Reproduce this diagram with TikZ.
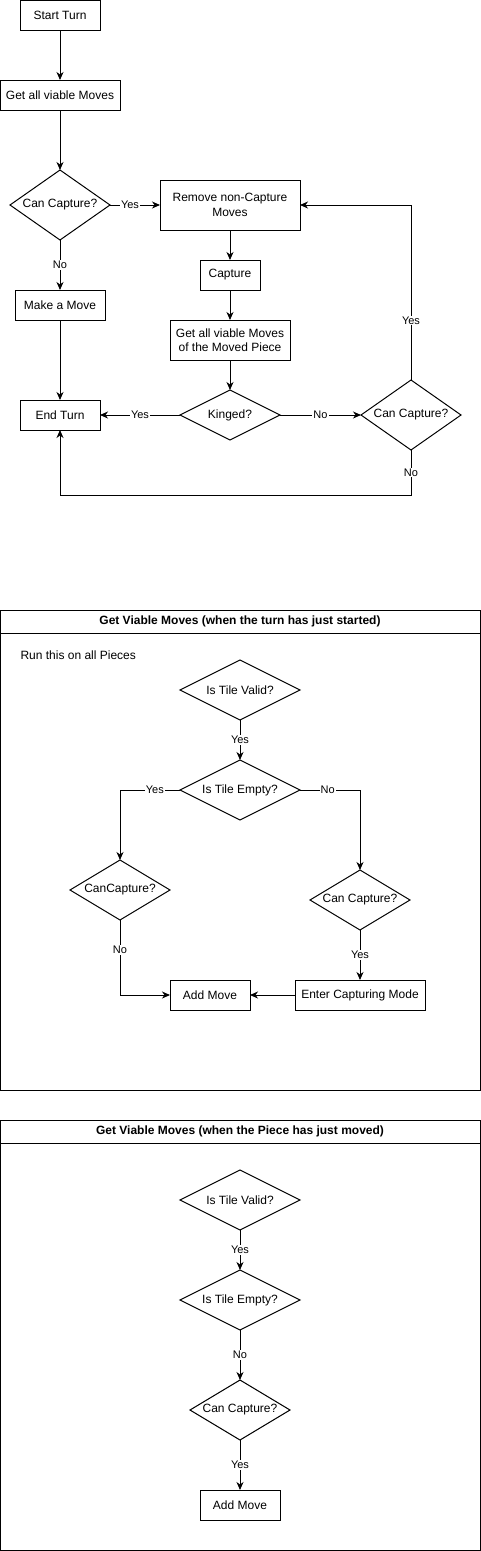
\documentclass[tikz,border=0pt]{standalone}
\usepackage{fontspec}
\setmainfont{Liberation Sans}
\usetikzlibrary{positioning, shapes.geometric, arrows.meta}

\begin{document}
\begin{tikzpicture}[x=1pt, y=1pt,
		box/.style={draw, rectangle, align=center, line width=1pt, inner sep=2pt, outer sep=0pt, minimum height=30pt, font=\fontsize{12}{14.5}\selectfont},
		decision/.style={draw, diamond, align=center, line width=1pt, inner sep=0pt, outer sep=0pt, font=\fontsize{12}{14.5}\selectfont},
		arrow/.style={-{Stealth[length=8pt, width=7pt, inset=2.5pt]}, line width=1pt},
		lbl/.style={fill=white, inner sep=1pt, font=\fontsize{11}{13}\selectfont},
		pool/.style={draw, rectangle, line width=1pt, inner sep=0pt, outer sep=0pt, minimum width=480pt},
		poolhead/.style={draw, rectangle, line width=1pt, outer sep=0pt, minimum width=480pt, minimum height=23pt, anchor=north, font=\fontsize{12}{14.5}\selectfont\bfseries}]
	\useasboundingbox (0,0) rectangle (481,-1551);

	% turn
	\node[box, minimum width=80pt] (start) at (60,-15) {Start Turn};
	\node[box, below=50pt of start, minimum width=120pt] (get) {Get all viable Moves};
	\node[decision, below=60pt of get, minimum width=100pt, minimum height=70pt, aspect=1.43] (cap1) {Can Capture?};
	\node[box, right=50pt of cap1, minimum width=140pt, minimum height=50pt] (remove) {Remove non-Capture\\Moves};
	\node[box, below=50pt of cap1, minimum width=90pt] (make) {Make a Move};
	\node[box, below=30pt of remove, minimum width=60pt] (capture) {Capture};
	\node[box, below=30pt of capture, minimum width=120pt, minimum height=40pt] (getpiece) {Get all viable Moves\\of the Moved Piece};
	\node[decision, below=30pt of getpiece, minimum width=100pt, minimum height=50pt, aspect=2] (kinged) {Kinged?};
	\node[box, left=80pt of kinged, minimum width=80pt] (endturn) {End Turn};
	\node[decision, right=81pt of kinged, minimum width=100pt, minimum height=70pt, aspect=1.43] (cap2) {Can Capture?};

	\draw[arrow] (start) -- (get);
	\draw[arrow] (get) -- (cap1);
	\draw[arrow] (cap1) -- node[lbl, pos=0.4] {Yes} (remove);
	\draw[arrow] (cap1) -- node[lbl] {No} (make);
	\draw[arrow] (remove) -- (capture);
	\draw[arrow] (capture) -- (getpiece);
	\draw[arrow] (getpiece) -- (kinged);
	\draw[arrow] (kinged) -- node[lbl] {Yes} (endturn);
	\draw[arrow] (kinged) -- node[lbl] {No} (cap2);
	\draw[arrow] (make) -- (endturn);
	\draw[arrow] (cap2.north) |- node[lbl, pos=0.17] {Yes} (remove.east);
	\draw[arrow] (cap2.south) -- node[lbl] {No} ++(0,-45) -| (endturn.south);

	% viable moves, turn start
	\node[pool, minimum height=480pt] (pool1) at (240,-850) {};
	\node[poolhead] (head1) at (pool1.north) {Get Viable Moves (when the turn has just started)};
	\node[anchor=west, font=\fontsize{12}{14.5}\selectfont] (note) at (17,-655) {Run this on all Pieces};
	\node[decision, minimum width=120pt, minimum height=60pt, aspect=2] (valid1) at (240,-690) {Is Tile Valid?};
	\node[decision, below=40pt of valid1, minimum width=120pt, minimum height=60pt, aspect=2] (empty1) {Is Tile Empty?};
	\node[decision, minimum width=100pt, minimum height=60pt, aspect=1.67] (cc1) at (120,-890) {CanCapture?};
	\node[decision, minimum width=100pt, minimum height=60pt, aspect=1.67] (cc2) at (360,-900) {Can Capture?};
	\node[box, minimum width=80pt] (addmove1) at (210,-995) {Add Move};
	\node[box, right=45pt of addmove1, minimum width=130pt] (capmode) {Enter Capturing Mode};

	\draw[arrow] (valid1) -- node[lbl] {Yes} (empty1);
	\draw[arrow] (empty1.west) -| node[lbl, pos=0.21] {Yes} (cc1.north);
	\draw[arrow] (empty1.east) -| node[lbl, pos=0.23] {No} (cc2.north);
	\draw[arrow] (cc1.south) |- node[lbl, pos=0.2] {No} (addmove1.west);
	\draw[arrow] (cc2) -- node[lbl] {Yes} (capmode);
	\draw[arrow] (capmode) -- (addmove1);

	% viable moves, piece moved
	\node[pool, minimum height=430pt] (pool2) at (240,-1335) {};
	\node[poolhead] (head2) at (pool2.north) {Get Viable Moves (when the Piece has just moved)};
	\node[decision, minimum width=120pt, minimum height=60pt, aspect=2] (valid2) at (240,-1200) {Is Tile Valid?};
	\node[decision, below=40pt of valid2, minimum width=120pt, minimum height=60pt, aspect=2] (empty2) {Is Tile Empty?};
	\node[decision, below=50pt of empty2, minimum width=100pt, minimum height=60pt, aspect=1.67] (cc3) {Can Capture?};
	\node[box, below=50pt of cc3, minimum width=80pt] (addmove2) {Add Move};

	\draw[arrow] (valid2) -- node[lbl] {Yes} (empty2);
	\draw[arrow] (empty2) -- node[lbl] {No} (cc3);
	\draw[arrow] (cc3) -- node[lbl] {Yes} (addmove2);
\end{tikzpicture}
\end{document}
